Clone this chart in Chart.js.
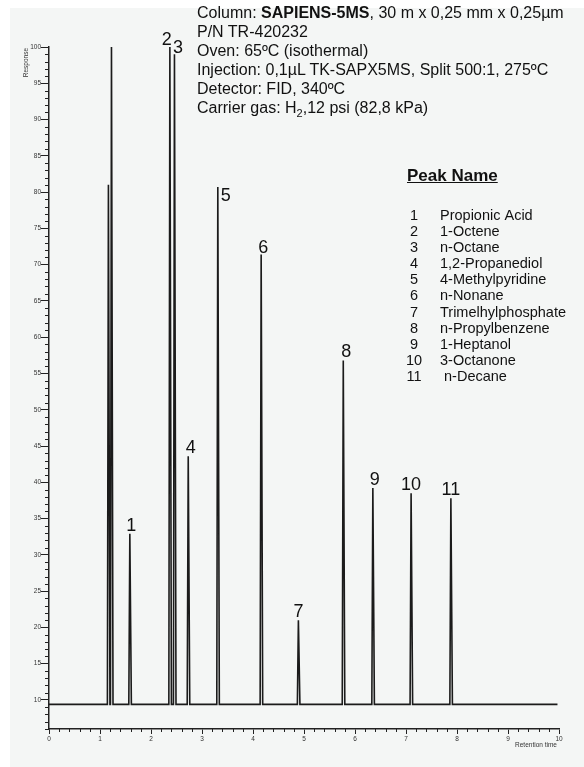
<!DOCTYPE html>
<html>
<head>
<meta charset="utf-8">
<script src="https://cdn.jsdelivr.net/npm/chart.js"></script>
<style>
  body { margin: 0; background: #fff; }
  #wrap { position: relative; width: 584px; height: 767px; }
  #c { position: absolute; left: 0; top: 0; }
  .info { position: absolute; font-family: "Liberation Sans", Arial, sans-serif; color: #111; }
  #header { left: 197px; top: 3px; font-size: 16px; line-height: 19px; white-space: nowrap; }
  #peakTitle { left: 407px; top: 166px; font-size: 17px; font-weight: bold; text-decoration: underline; }
  #peakList { left: 400px; top: 207px; font-size: 14.5px; line-height: 16.1px; }
  #peakList .n { display: inline-block; width: 28px; text-align: center; }
  #peakList .name { display: inline-block; margin-left: 12px; }
</style>
</head>
<body>
<div id="wrap">
  <canvas id="c" width="584" height="767"></canvas>
  <div id="header" class="info">
    Column: <b>SAPIENS-5MS</b>, 30 m x 0,25 mm x 0,25µm<br>
    P/N TR-420232<br>
    Oven: 65ºC (isothermal)<br>
    Injection: 0,1µL TK-SAPX5MS, Split 500:1, 275ºC<br>
    Detector: FID, 340ºC<br>
    Carrier gas: H<sub style="font-size:11px">2</sub>,12 psi (82,8 kPa)
  </div>
  <div id="peakTitle" class="info">Peak Name</div>
  <div id="peakList" class="info"></div>
</div>
<script>
// chromatogram data
const peakNumbers = ['1', '2', '3', '4', '5', '6', '7', '8', '9', '10', '11'];
const peakNames = ['Propionic Acid', '1-Octene', 'n-Octane', '1,2-Propanediol', '4-Methylpyridine',
  'n-Nonane', 'Trimelhylphosphate', 'n-Propylbenzene', '1-Heptanol', '3-Octanone', ' n-Decane'];
const retentionTimes = [1.585, 2.37, 2.46, 2.73, 3.31, 4.16, 4.89, 5.77, 6.35, 7.10, 7.88];
const peakHeights = [32.9, 100, 99.0, 43.6, 80.7, 71.4, 21.0, 56.8, 39.2, 38.5, 37.8];
const solventTimes = [1.165, 1.225];
const solventHeights = [81, 100];
const baseline = 9.4;
const runStart = 0, runEnd = 9.97;
const xTickValues = [0, 1, 2, 3, 4, 5, 6, 7, 8, 9, 10];
const yTickValues = [10, 15, 20, 25, 30, 35, 40, 45, 50, 55, 60, 65, 70, 75, 80, 85, 90, 95, 100];

// label nudges in pixels (style only)
const labelDx = [1.5, -3, 3.5, 2.5, 8, 2, 0, 3, 2, 0, 0];
const labelDy = [-3, -2, -1.5, -3, 14, -2, -3, -3, -3, -3, -3];

// legend list
document.getElementById('peakList').innerHTML = peakNumbers.map((n, i) =>
  '<div><span class="n">' + n + '</span><span class="name">' + peakNames[i].replace(' ', '&nbsp;') + '</span></div>'
).join('');

// build the trace: narrow triangles on a flat baseline
const trace = [{ x: runStart, y: baseline }];
solventTimes.concat(retentionTimes).forEach((t, i) => {
  const h = i < solventTimes.length ? solventHeights[i] : peakHeights[i - solventTimes.length];
  trace.push({ x: t - 0.02, y: baseline });
  trace.push({ x: t, y: h });
  trace.push({ x: t + 0.03, y: baseline });
});
trace.push({ x: runEnd, y: baseline });

const font = '"Liberation Sans", Arial, sans-serif';

const panelBg = {
  id: 'panelBg',
  beforeDraw(chart) {
    const ctx = chart.ctx;
    ctx.save();
    ctx.fillStyle = '#ffffff';
    ctx.fillRect(0, 0, chart.width, chart.height);
    ctx.fillStyle = '#f4f6f5';
    ctx.fillRect(10, 8, chart.width - 10, chart.height - 8);
    ctx.restore();
  }
};

const extras = {
  id: 'extras',
  afterDraw(chart) {
    const ctx = chart.ctx;
    const xs = chart.scales.x, ys = chart.scales.y;
    const area = chart.chartArea;
    ctx.save();
    // minor ticks
    ctx.strokeStyle = '#222';
    ctx.lineWidth = 1;
    ctx.beginPath();
    for (let v = Math.ceil(ys.min); v <= ys.max; v++) {
      if (v % 5 === 0) continue;
      const py = Math.round(ys.getPixelForValue(v)) + 0.5;
      ctx.moveTo(area.left - 4, py);
      ctx.lineTo(area.left, py);
    }
    for (let v = 1; v < 50; v++) {
      if (v % 5 === 0) continue;
      const px = Math.round(xs.getPixelForValue(v / 5)) + 0.5;
      ctx.moveTo(px, area.bottom);
      ctx.lineTo(px, area.bottom + 3);
    }
    ctx.stroke();
    // axis titles
    ctx.fillStyle = '#333';
    ctx.font = '6.5px ' + font;
    ctx.save();
    ctx.translate(28, area.top + 1);
    ctx.rotate(-Math.PI / 2);
    ctx.textAlign = 'right';
    ctx.fillText('Response', 0, 0);
    ctx.restore();
    ctx.textAlign = 'center';
    ctx.fillText('Retention time', 536, area.bottom + 18);
    // peak numbers
    ctx.fillStyle = '#111';
    ctx.font = '18px ' + font;
    ctx.textAlign = 'center';
    ctx.textBaseline = 'alphabetic';
    retentionTimes.forEach((t, i) => {
      const px = xs.getPixelForValue(t) + labelDx[i];
      const py = ys.getPixelForValue(peakHeights[i]) + labelDy[i];
      ctx.fillText(peakNumbers[i], px, py);
    });
    ctx.restore();
  }
};

new Chart(document.getElementById('c'), {
  type: 'scatter',
  data: {
    datasets: [{
      data: trace,
      showLine: true,
      borderColor: '#1b1b1b',
      borderWidth: 1.6,
      pointRadius: 0,
      tension: 0
    }]
  },
  options: {
    responsive: false,
    animation: false,
    devicePixelRatio: 1,
    layout: { padding: { left: 0, right: 25, top: 47, bottom: 0 } },
    plugins: { legend: { display: false }, tooltip: { enabled: false } },
    scales: {
      x: {
        type: 'linear',
        min: 0,
        max: 10,
        afterFit: s => { s.height = 38; },
        afterBuildTicks: s => { s.ticks = xTickValues.map(v => ({ value: v })); },
        grid: { drawOnChartArea: false, color: '#222', tickLength: 5 },
        border: { color: '#222', width: 1.5 },
        ticks: { color: '#333', font: { family: font, size: 6.5 }, padding: 1, maxRotation: 0 }
      },
      y: {
        type: 'linear',
        min: 6.0,
        max: 100,
        afterFit: s => { s.width = 49; },
        afterBuildTicks: s => { s.ticks = yTickValues.map(v => ({ value: v })); },
        grid: { drawOnChartArea: false, color: '#222', tickLength: 8 },
        border: { color: '#222', width: 1.5 },
        ticks: { color: '#333', font: { family: font, size: 6.5 }, padding: 0 }
      }
    }
  },
  plugins: [panelBg, extras]
});
</script>
</body>
</html>
